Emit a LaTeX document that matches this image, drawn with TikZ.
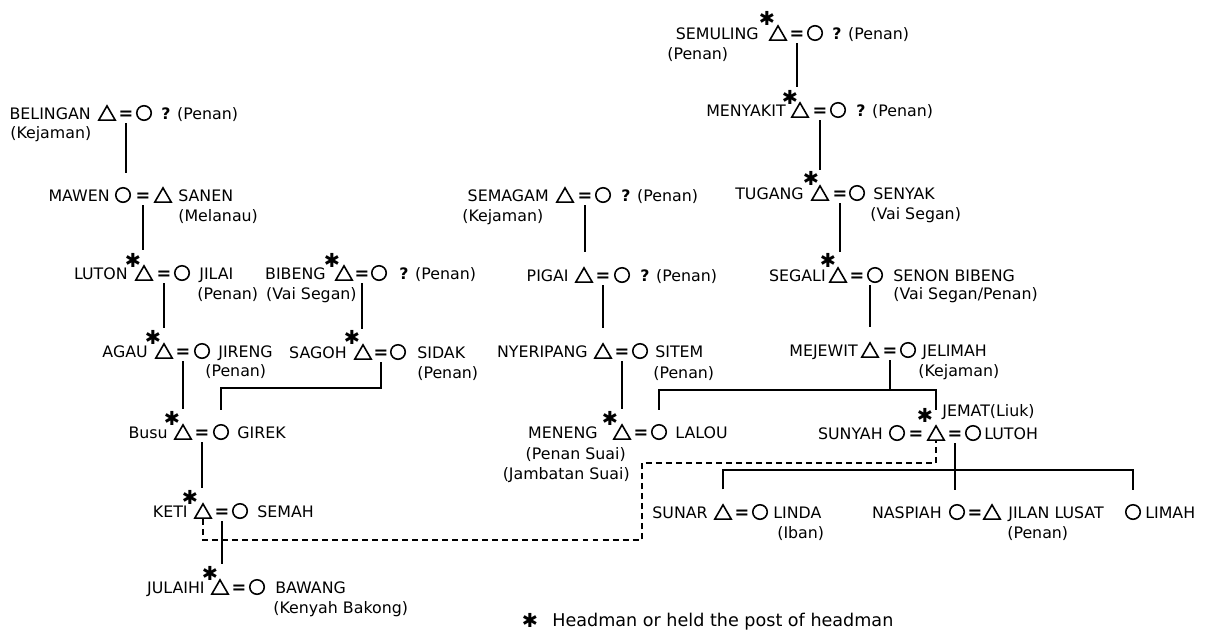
\documentclass[tikz,border=0pt]{standalone}
\usepackage{fontspec}
\setmainfont{DejaVu Sans}
\usetikzlibrary{shapes.geometric}

\tikzset{
  male/.style={draw, regular polygon, regular polygon sides=3, minimum size=0.38cm, inner sep=0pt, line width=0.9pt, yshift=-1.35pt},
  female/.style={draw, circle, minimum size=0.29cm, inner sep=0pt, line width=0.9pt},
  wed/.style={inner sep=0pt, font=\fontsize{10}{12}\selectfont\bfseries, text height=0.73em, text depth=0pt, minimum height=0.4cm},
  lbl/.style={inner sep=0pt, font=\fontsize{9}{10}\selectfont, text height=0.73em, text depth=0pt},
  headmark/.style={inner sep=0pt, font=\fontsize{11}{12}\selectfont},
  kin/.style={line width=1.1pt, shorten >=0.28cm},
  adopted/.style={line width=1.1pt, dash pattern=on 3.4pt off 2.3pt}
}

\begin{document}
\begin{tikzpicture}[x=0.02cm, y=-0.02cm]
  \useasboundingbox (0,0) rectangle (1212,635);

  % Belingan line (left)
  \node[male] (belinganT) at (107,113) {};
  \node[wed] (belinganE) at (126,113) {=};
  \node[female] (belinganC) at (144,113) {};
  \node[lbl, anchor=east] (belinganN) at (91,113) {BELINGAN};
  \node[lbl, anchor=west] (belinganO) at (10,132) {(Kejaman)};
  \node[lbl, anchor=west] (belinganW) at (161,113) {\textbf{?} (Penan)};

  \node[female] (mawenC) at (123,195) {};
  \node[wed] (mawenE) at (143,195) {=};
  \node[male] (mawenT) at (163,195) {};
  \node[lbl, anchor=east] (mawenN) at (110,195) {MAWEN};
  \node[lbl, anchor=west] (mawenW) at (178,195) {SANEN};
  \node[lbl, anchor=west] (mawenO) at (178,215) {(Melanau)};

  \node[male] (lutonT) at (144,273) {};
  \node[wed] (lutonE) at (164,273) {=};
  \node[female] (lutonC) at (182,273) {};
  \node[headmark] (lutonH) at (133,260) {✱};
  \node[lbl, anchor=east] (lutonN) at (128,273) {LUTON};
  \node[lbl, anchor=west] (lutonW) at (199,273) {JILAI};
  \node[lbl, anchor=west] (lutonO) at (197,293) {(Penan)};

  \node[male] (agauT) at (164,351) {};
  \node[wed] (agauE) at (183,351) {=};
  \node[female] (agauC) at (202,351) {};
  \node[headmark] (agauH) at (153,337) {✱};
  \node[lbl, anchor=east] (agauN) at (148,351) {AGAU};
  \node[lbl, anchor=west] (agauW) at (218,351) {JIRENG};
  \node[lbl, anchor=west] (agauO) at (205,370) {(Penan)};

  \node[male] (bibengT) at (344,273) {};
  \node[wed] (bibengE) at (362,273) {=};
  \node[female] (bibengC) at (379,273) {};
  \node[headmark] (bibengH) at (332,260) {✱};
  \node[lbl, anchor=east] (bibengN) at (326,273) {BIBENG};
  \node[lbl, anchor=east] (bibengO) at (357,293) {(Vai Segan)};
  \node[lbl, anchor=west] (bibengW) at (399,273) {\textbf{?} (Penan)};

  \node[male] (sagohT) at (363,352) {};
  \node[wed] (sagohE) at (381,352) {=};
  \node[female] (sagohC) at (398,352) {};
  \node[headmark] (sagohH) at (352,337) {✱};
  \node[lbl, anchor=east] (sagohN) at (347,352) {SAGOH};
  \node[lbl, anchor=west] (sagohW) at (417,352) {SIDAK};
  \node[lbl, anchor=west] (sagohO) at (417,372) {(Penan)};

  \node[male] (busuT) at (183,432) {};
  \node[wed] (busuE) at (202,432) {=};
  \node[female] (busuC) at (221,432) {};
  \node[headmark] (busuH) at (172,418) {✱};
  \node[lbl, anchor=east] (busuN) at (168,432) {Busu};
  \node[lbl, anchor=west] (busuW) at (237,432) {GIREK};

  \node[male] (ketiT) at (203,511) {};
  \node[wed] (ketiE) at (222,511) {=};
  \node[female] (ketiC) at (240,511) {};
  \node[headmark] (ketiH) at (190,497) {✱};
  \node[lbl, anchor=east] (ketiN) at (188,511) {KETI};
  \node[lbl, anchor=west] (ketiW) at (257,511) {SEMAH};

  \node[male] (julaihiT) at (220,587) {};
  \node[wed] (julaihiE) at (239,587) {=};
  \node[female] (julaihiC) at (257,587) {};
  \node[headmark] (julaihiH) at (210,573) {✱};
  \node[lbl, anchor=east] (julaihiN) at (205,587) {JULAIHI};
  \node[lbl, anchor=west] (julaihiW) at (275,587) {BAWANG};
  \node[lbl, anchor=west] (julaihiO) at (273,607) {(Kenyah Bakong)};

  % Semagam line (middle)
  \node[male] (semagamT) at (565,195) {};
  \node[wed] (semagamE) at (585,195) {=};
  \node[female] (semagamC) at (603,195) {};
  \node[lbl, anchor=east] (semagamN) at (549,195) {SEMAGAM};
  \node[lbl, anchor=west] (semagamO) at (462,215) {(Kejaman)};
  \node[lbl, anchor=west] (semagamW) at (621,195) {\textbf{?} (Penan)};

  \node[male] (pigaiT) at (584,275) {};
  \node[wed] (pigaiE) at (603,275) {=};
  \node[female] (pigaiC) at (622,275) {};
  \node[lbl, anchor=east] (pigaiN) at (569,275) {PIGAI};
  \node[lbl, anchor=west] (pigaiW) at (640,275) {\textbf{?} (Penan)};

  \node[male] (nyeripangT) at (603,351) {};
  \node[wed] (nyeripangE) at (622,351) {=};
  \node[female] (nyeripangC) at (640,351) {};
  \node[lbl, anchor=east] (nyeripangN) at (588,351) {NYERIPANG};
  \node[lbl, anchor=west] (nyeripangW) at (655,351) {SITEM};
  \node[lbl, anchor=west] (nyeripangO) at (653,372) {(Penan)};

  \node[male] (menengT) at (622,432) {};
  \node[wed] (menengE) at (641,432) {=};
  \node[female] (menengC) at (659,432) {};
  \node[headmark] (menengH) at (610,418) {✱};
  \node[lbl, anchor=east] (menengN) at (598,432) {MENENG};
  \node[lbl, anchor=west] (menengW) at (675,432) {LALOU};
  \node[lbl, anchor=east] (menengO) at (626,453) {(Penan Suai)};
  \node[lbl, anchor=east] (menengP) at (630,473) {(Jambatan Suai)};

  % Semuling line (right)
  \node[male] (semulingT) at (778,33) {};
  \node[wed] (semulingE) at (797,33) {=};
  \node[female] (semulingC) at (815,33) {};
  \node[headmark] (semulingH) at (767,18) {✱};
  \node[lbl, anchor=east] (semulingN) at (759,33) {SEMULING};
  \node[lbl, anchor=west] (semulingO) at (667,53) {(Penan)};
  \node[lbl, anchor=west] (semulingW) at (832,33) {\textbf{?} (Penan)};

  \node[male] (menyakitT) at (800,110) {};
  \node[wed] (menyakitE) at (820,110) {=};
  \node[female] (menyakitC) at (838,110) {};
  \node[headmark] (menyakitH) at (790,97) {✱};
  \node[lbl, anchor=east] (menyakitN) at (786,110) {MENYAKIT};
  \node[lbl, anchor=west] (menyakitW) at (856,110) {\textbf{?} (Penan)};

  \node[male] (tugangT) at (820,193) {};
  \node[wed] (tugangE) at (840,193) {=};
  \node[female] (tugangC) at (857,193) {};
  \node[headmark] (tugangH) at (811,178) {✱};
  \node[lbl, anchor=east] (tugangN) at (804,193) {TUGANG};
  \node[lbl, anchor=west] (tugangW) at (873,193) {SENYAK};
  \node[lbl, anchor=west] (tugangO) at (870,213) {(Vai Segan)};

  \node[male] (segaliT) at (838,275) {};
  \node[wed] (segaliE) at (857,275) {=};
  \node[female] (segaliC) at (875,275) {};
  \node[headmark] (segaliH) at (828,260) {✱};
  \node[lbl, anchor=east] (segaliN) at (826,275) {SEGALI};
  \node[lbl, anchor=west] (segaliW) at (893,275) {SENON BIBENG};
  \node[lbl, anchor=west] (segaliO) at (893,293) {(Vai Segan/Penan)};

  \node[male] (mejewitT) at (870,350) {};
  \node[wed] (mejewitE) at (890,350) {=};
  \node[female] (mejewitC) at (908,350) {};
  \node[lbl, anchor=east] (mejewitN) at (858,350) {MEJEWIT};
  \node[lbl, anchor=west] (mejewitW) at (922,350) {JELIMAH};
  \node[lbl, anchor=west] (mejewitO) at (918,370) {(Kejaman)};

  \node[female] (jematA) at (897,433) {};
  \node[wed, minimum height=0pt] (jematD) at (916,433) {=};
  \node[male] (jematT) at (936,433) {};
  \node[wed] (jematE) at (955,433) {=};
  \node[female] (jematC) at (973,433) {};
  \node[headmark] (jematH) at (925,415) {✱};
  \node[lbl, anchor=east] (jematN) at (883,433) {SUNYAH};
  \node[lbl, anchor=west] (jematW) at (984,433) {LUTOH};
  \node[lbl, anchor=west] (jematO) at (942,410) {JEMAT(Liuk)};

  \node[male] (sunarT) at (723,512) {};
  \node[wed] (sunarE) at (742,512) {=};
  \node[female] (sunarC) at (760,512) {};
  \node[lbl, anchor=east] (sunarN) at (708,512) {SUNAR};
  \node[lbl, anchor=west] (sunarW) at (773,512) {LINDA};
  \node[lbl, anchor=west] (sunarO) at (777,532) {(Iban)};

  \node[female] (naspiahC) at (957,512) {};
  \node[wed] (naspiahE) at (975,512) {=};
  \node[male] (naspiahT) at (992,512) {};
  \node[lbl, anchor=east] (naspiahN) at (942,512) {NASPIAH};
  \node[lbl, anchor=west] (naspiahW) at (1008,512) {JILAN LUSAT};
  \node[lbl, anchor=west] (naspiahO) at (1007,532) {(Penan)};

  \node[female] (limahC) at (1133,512) {};
  \node[lbl, anchor=west] (limahN) at (1145,512) {LIMAH};

  % Descent lines
  \draw[kin] (belinganE.south) -- (belinganE.south |- mawenC.north);
  \draw[kin] (mawenE.south) -- (mawenE.south |- lutonT.north);
  \draw[kin] (lutonE.south) -- (lutonE.south |- agauT.north);
  \draw[kin] (agauE.south) -- (agauE.south |- busuT.north);
  \draw[kin] (busuE.south) -- (busuE.south |- ketiT.north);
  \draw[kin] (ketiE.south) -- (ketiE.south |- julaihiT.north);
  \draw[kin] (bibengE.south) -- (bibengE.south |- sagohT.north);
  \coordinate (sagohBar) at (0,388);
  \draw[kin] (sagohE.south) -- (sagohE.south |- sagohBar) -- (busuC.north |- sagohBar) -- (busuC.north);

  \draw[kin] (semagamE.south) -- (semagamE.south |- pigaiT.north);
  \draw[kin] (pigaiE.south) -- (pigaiE.south |- nyeripangT.north);
  \draw[kin] (nyeripangE.south) -- (nyeripangE.south |- menengT.north);

  \draw[kin] (semulingE.south) -- (semulingE.south |- menyakitT.north);
  \draw[kin] (menyakitE.south) -- (menyakitE.south |- tugangT.north);
  \draw[kin] (tugangE.south) -- (tugangE.south |- segaliT.north);
  \draw[kin] (mejewitT.north |- segaliE.south) -- (mejewitT.north);

  \coordinate (mejewitBar) at (0,390);
  \draw[kin, shorten >=0pt] (mejewitE.south) -- (mejewitE.south |- mejewitBar);
  \draw[kin, shorten <=0.28cm] (menengC.north) -- (menengC.north |- mejewitBar) -- (jematT.north |- mejewitBar) -- (jematT.north);

  \coordinate (jematBar) at (0,470);
  \draw[kin] (jematE.south) -- (jematE.south |- naspiahC.north);
  \draw[kin, shorten <=0.28cm] (sunarT.north) -- (sunarT.north |- jematBar) -- (limahC.north |- jematBar) -- (limahC.north);

  % Adoption link
  \coordinate (adoptLow) at (642,540);
  \coordinate (adoptHigh) at (642,463);
  \draw[adopted] (ketiT.south) -- (ketiT.south |- adoptLow) -- (adoptLow) -- (adoptHigh) -- (adoptHigh -| jematT.south) -- (jematT.south);

  % Legend
  \node[headmark] (legendH) at (530,620) {✱};
  \node[lbl, font=\fontsize{10}{12}\selectfont, anchor=west] (legendT) at (552,620) {Headman or held the post of headman};
\end{tikzpicture}
\end{document}
